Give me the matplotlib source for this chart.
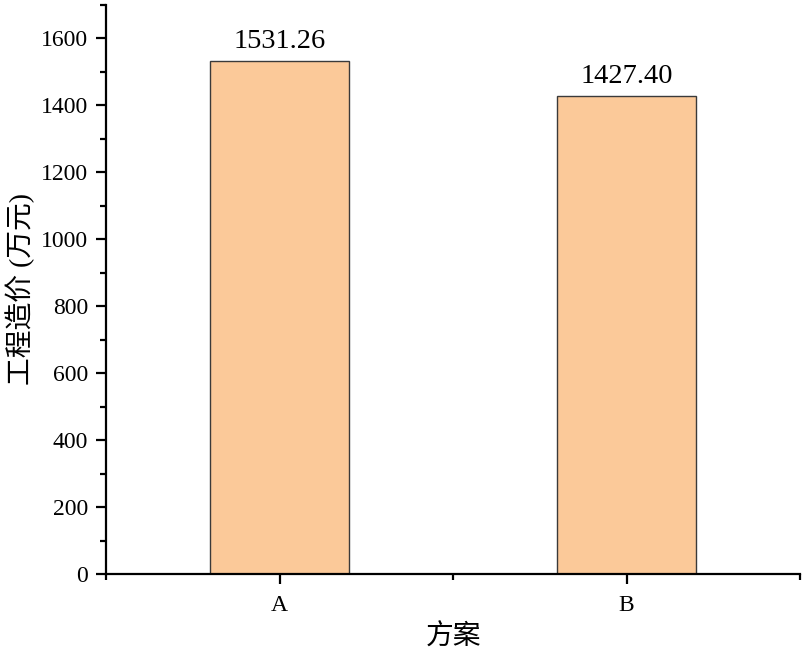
import numpy as np
import matplotlib.pyplot as plt
from matplotlib.ticker import MultipleLocator, FixedLocator

plans = ['A', 'B']
costs = [1531.26, 1427.40]

plt.rcParams['font.family'] = ['Liberation Serif', 'Noto Sans CJK SC']

fig = plt.figure(figsize=(8.02, 6.56), dpi=100)
ax = fig.add_axes([0.1322, 0.125, 0.8653, 0.8674])

x = np.arange(1, len(plans) + 1)
ax.bar(x, costs, width=0.4, color='#fbc999', edgecolor='#3a3a3a', linewidth=1.0)

for xi, v in zip(x, costs):
    ax.text(xi, v + 22, f'{v:.2f}', ha='center', va='bottom', fontsize=20.5)

ax.set_xlim(0.5, 2.5)
ax.set_ylim(0, 1700)
ax.set_xticks(x)
ax.set_xticklabels(plans)
ax.xaxis.set_minor_locator(FixedLocator([0.5, 1.5, 2.5]))
ax.yaxis.set_major_locator(MultipleLocator(200))
ax.yaxis.set_minor_locator(MultipleLocator(100))

for s in ['top', 'right']:
    ax.spines[s].set_visible(False)
for s in ['left', 'bottom']:
    ax.spines[s].set_linewidth(1.6)

ax.tick_params(which='major', direction='out', length=7, width=1.6, labelsize=17)
ax.tick_params(which='minor', direction='out', length=4, width=1.6)
ax.tick_params(axis='x', pad=8)
ax.tick_params(axis='y', pad=6)

ax.set_xlabel('方案', fontsize=20, family=['Noto Sans CJK SC'], labelpad=4)
ax.set_ylabel('工程造价 (万元)', fontsize=20, labelpad=4)

fig.savefig('out.png', dpi=100)
